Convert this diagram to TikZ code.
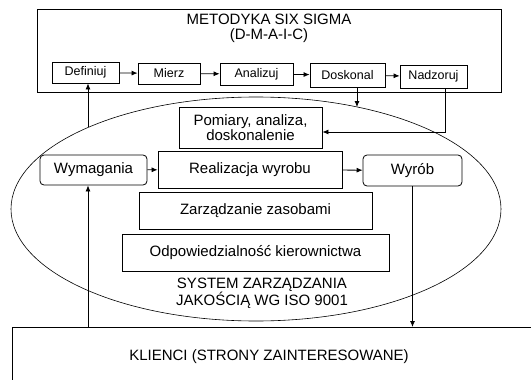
\documentclass[tikz,border=0pt]{standalone}
\usepackage{fontspec}
\setmainfont{Liberation Sans}
\usetikzlibrary{arrows.meta}

\tikzset{
    box/.style={draw, rectangle, inner sep=0pt, align=center, font=\fontsize{15}{15}\selectfont},
    roundbox/.style={box, rounded corners=4pt},
    stepbox/.style={draw, rectangle, inner sep=0pt, font=\fontsize{12.5}{14}\selectfont},
    txt/.style={align=center, inner sep=0pt, font=\fontsize{15}{17}\selectfont},
    arr/.style={-{Latex[length=6pt,width=5pt]}}
}

\begin{document}
\begin{tikzpicture}[x=1pt, y=-1pt, line width=0.8pt]
    \path[use as bounding box, fill=white] (0,0) rectangle (531,380);

    % six sigma
    \node[draw, minimum width=464pt, minimum height=83pt] (sixsigma) at (269,50.5) {};
    \node[txt, font=\fontsize{15}{15.5}\selectfont] (title) at (269,28.5) {METODYKA SIX SIGMA\\(D-M-A-I-C)};

    \node[stepbox, minimum width=67pt, minimum height=21pt] (def) at (85.5,72.5) {Definiuj};
    \node[stepbox, minimum width=62pt, minimum height=21pt] (mie) at (169,73.5) {Mierz};
    \node[stepbox, minimum width=73pt, minimum height=22pt] (ana) at (256.5,74) {Analizuj};
    \node[stepbox, minimum width=75pt, minimum height=24pt] (dos) at (347.5,75) {Doskonal};
    \node[stepbox, minimum width=67pt, minimum height=23pt] (nad) at (433.5,76.5) {Nadzoruj};

    \foreach \a/\b in {def/mie, mie/ana, ana/dos, dos/nad}
        \draw[arr] (\a) -- (\b);

    % system iso 9001
    \draw[line width=0.6pt] (256,209) ellipse [x radius=245pt, y radius=112pt];

    \node[box, minimum width=143pt, minimum height=41pt] (pom) at (250.5,127.5) {Pomiary, analiza,\\doskonalenie};
    \node[roundbox, minimum width=107pt, minimum height=30pt] (wym) at (93.5,170) {Wymagania};
    \node[box, minimum width=184pt, minimum height=37pt] (rea) at (250,169.5) {Realizacja wyrobu};
    \node[roundbox, minimum width=99pt, minimum height=31pt] (wyr) at (412.5,170.5) {Wyrób};
    \node[box, minimum width=233pt, minimum height=37pt] (zas) at (255.5,210.5) {Zarządzanie zasobami};
    \node[box, minimum width=267pt, minimum height=37pt] (odp) at (255.5,252.5) {Odpowiedzialność kierownictwa};

    \node[txt] (iso) at (262,293.5) {SYSTEM ZARZĄDZANIA\\JAKOŚCIĄ WG ISO 9001};

    % klienci
    \coordinate (klitop) at (12,327);
    \draw (klitop |- 0,380) -- (klitop) -- (531,327);
    \node[txt] (kli) at (269,357) {KLIENCI (STRONY ZAINTERESOWANE)};

    % connectors
    \coordinate (ellL) at (88,127);
    \coordinate (ellT) at (357,107);
    \coordinate (nadturn) at (445,132);

    \draw[arr] (ellL) -- (def.south -| ellL);
    \draw[arr] (dos.south -| ellT) -- (ellT);
    \draw[arr] (nad.south -| nadturn) -- (nadturn) -- (pom.east |- nadturn);
    \draw[arr] (wym) -- (rea);
    \draw[arr] (rea) -- (wyr);
    \draw[arr] (klitop -| ellL) -- (wym.south -| ellL);
    \draw[arr] (wyr.south) -- (wyr.south |- klitop);
\end{tikzpicture}
\end{document}
